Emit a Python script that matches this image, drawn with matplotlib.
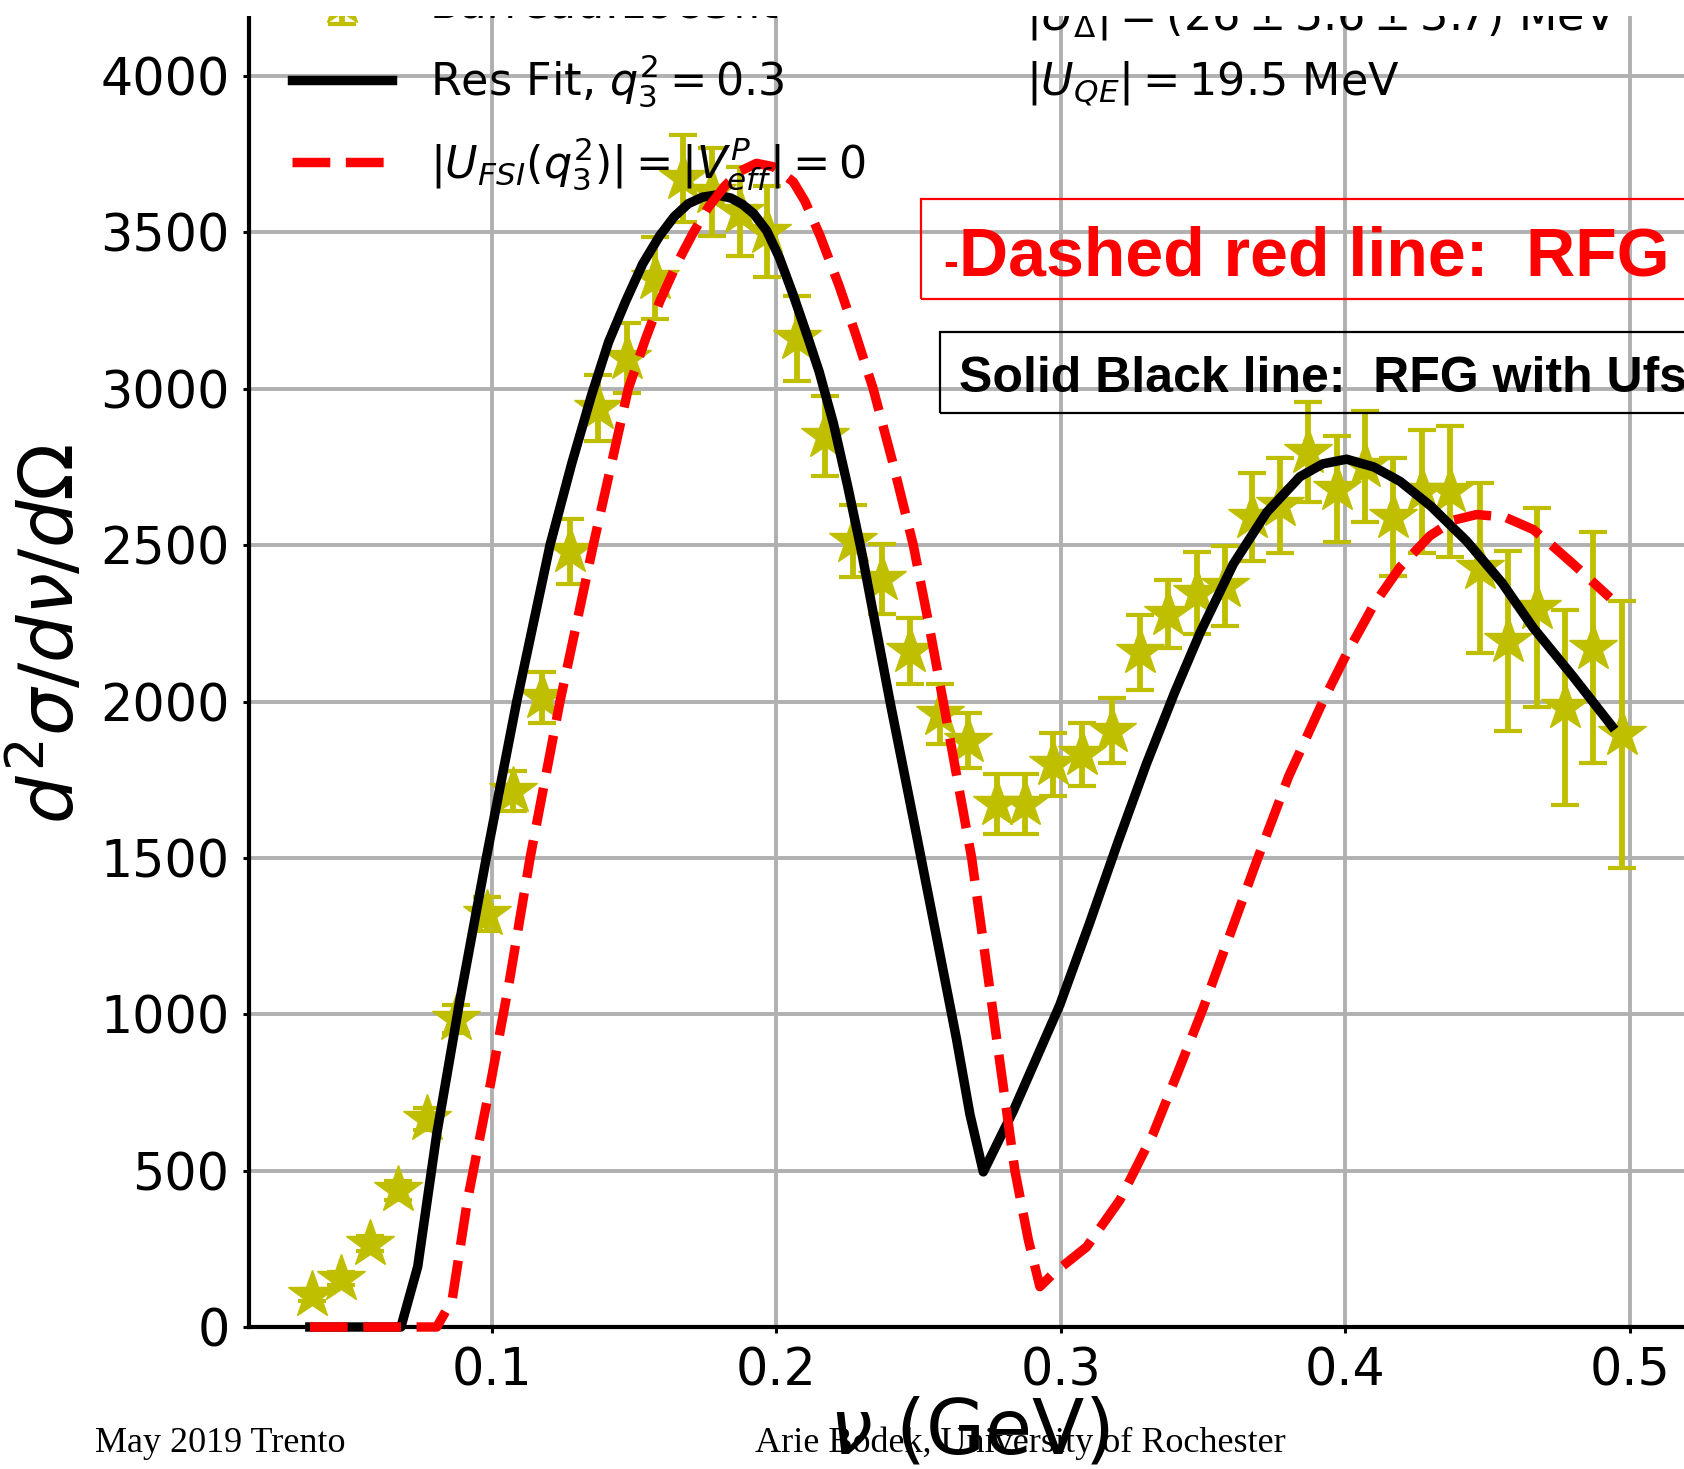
#!/usr/bin/env python3
"""Barreau 1983 data vs resonance fit, with and without FSI potential."""

import matplotlib

matplotlib.use("Agg")
import matplotlib.pyplot as plt
from matplotlib.patches import Rectangle

W, H = 1684, 1469

# Barreau:1983 data points (nu in GeV, cross section, error)
data_nu = [0.0369, 0.0469, 0.0570, 0.0671, 0.0772, 0.0873, 0.0981, 0.1075, 0.1175, 0.1274,
           0.1374, 0.1473, 0.1573, 0.1672, 0.1772, 0.1872, 0.1966, 0.2071, 0.2170, 0.2270,
           0.2372, 0.2469, 0.2575, 0.2674, 0.2774, 0.2873, 0.2973, 0.3073, 0.3178, 0.3278,
           0.3377, 0.3477, 0.3576, 0.3670, 0.3770, 0.3869, 0.3969, 0.4069, 0.4168, 0.4268,
           0.4367, 0.4473, 0.4572, 0.4672, 0.4772, 0.4871, 0.4971]
data_xs = [102, 155, 267, 437, 666, 986, 1321, 1715, 2013, 2481,
           2939, 3098, 3354, 3673, 3630, 3567, 3503, 3162, 2848, 2513,
           2391, 2162, 1960, 1874, 1672, 1672, 1800, 1832, 1906, 2157,
           2280, 2347, 2370, 2590, 2627, 2797, 2679, 2752, 2590, 2672,
           2672, 2427, 2193, 2300, 1981, 2172, 1895]
data_err = [20, 20, 25, 30, 35, 45, 55, 64, 80, 104,
            106, 112, 130, 138, 140, 142, 144, 136, 128, 115,
            112, 106, 96, 88, 96, 96, 101, 101, 104, 121,
            110, 132, 128, 140, 152, 160, 170, 178, 189, 197,
            210, 271, 287, 319, 311, 370, 428]

# Res Fit, q3^2 = 0.3 (solid black)
fit_nu = [0.036, 0.068, 0.0739, 0.0806, 0.0887, 0.0980, 0.1087, 0.1204, 0.1280, 0.1350,
          0.1410, 0.1470, 0.1530, 0.1590, 0.1640, 0.1690, 0.1740, 0.1790, 0.1840, 0.1880,
          0.1920, 0.1966, 0.2010, 0.2059, 0.2110, 0.2150, 0.2200, 0.2250, 0.2299, 0.2399,
          0.2493, 0.2560, 0.2633, 0.2680, 0.2727, 0.2832, 0.2996, 0.3100, 0.3200, 0.3300,
          0.3400, 0.3489, 0.3606, 0.3723, 0.3840, 0.3920, 0.4004, 0.4100, 0.4192, 0.4300,
          0.4426, 0.4550, 0.4660, 0.4800, 0.4936]
fit_xs = [0, 0, 193, 618, 1044, 1500, 2000, 2500, 2760, 2980,
          3150, 3280, 3400, 3490, 3550, 3592, 3613, 3620, 3610, 3590,
          3560, 3505, 3420, 3300, 3165, 3055, 2890, 2690, 2480, 2000,
          1570, 1260, 920, 680, 496, 690, 1030, 1290, 1550, 1800,
          2030, 2220, 2440, 2605, 2719, 2760, 2775, 2750, 2704, 2625,
          2513, 2380, 2236, 2080, 1922]

# |U_FSI(q3^2)| = |V_eff^P| = 0 (dashed red)
rfg_nu = [0.036, 0.0806, 0.0860, 0.0914, 0.0995, 0.1062, 0.1134, 0.1239, 0.1356, 0.1479,
          0.1540, 0.1590, 0.1650, 0.1708, 0.1760, 0.1820, 0.1870, 0.1930, 0.1990, 0.2059,
          0.2100, 0.2153, 0.2220, 0.2280, 0.2340, 0.2410, 0.2481, 0.2535, 0.2586, 0.2686,
          0.2762, 0.2838, 0.2885, 0.2926, 0.2973, 0.3090, 0.3207, 0.3324, 0.3418, 0.3500,
          0.3600, 0.3688, 0.3800, 0.3922, 0.4004, 0.4100, 0.4192, 0.4297, 0.4380, 0.4461,
          0.4560, 0.4660, 0.4725, 0.4800, 0.4930]
rfg_xs = [0, 0, 86, 406, 779, 1110, 1500, 2000, 2500, 3000,
          3160, 3280, 3400, 3500, 3580, 3650, 3695, 3721, 3710, 3662,
          3600, 3490, 3330, 3170, 3000, 2760, 2500, 2250, 2000, 1500,
          1000, 500, 280, 129, 171, 256, 406, 618, 831, 1020,
          1270, 1490, 1760, 2003, 2152, 2310, 2430, 2530, 2580, 2598,
          2590, 2550, 2500, 2440, 2332]

x_ticks = [0.1, 0.2, 0.3, 0.4, 0.5]
y_ticks = [0, 500, 1000, 1500, 2000, 2500, 3000, 3500, 4000]


def fx(px):
    return px / W


def fy(py):
    return 1 - py / H


plt.rcParams.update({
    "font.family": "DejaVu Sans",
    "mathtext.fontset": "dejavusans",
})

fig = plt.figure(figsize=(W / 100, H / 100), dpi=100)
ax_bottom, ax_top = 1327, -59
ax = fig.add_axes([fx(249), fy(ax_bottom), (1690 - 249) / W, (ax_bottom - ax_top) / H])

eb = ax.errorbar(data_nu, data_xs, yerr=data_err, fmt="*", color="y", ms=36,
                 elinewidth=4.2, capsize=10, capthick=3, zorder=2)
black_line, = ax.plot(fit_nu, fit_xs, color="black", lw=6.8, zorder=3, clip_on=False,
                      solid_joinstyle="round")
red_line, = ax.plot(rfg_nu, rfg_xs, color="red", lw=6.8, ls=(0, (4.0, 1.65)),
                    zorder=4, clip_on=False)

ax.set_xlim(0.0146, 0.5211)
ax.set_ylim(0, 4432)
ax.set_xticks(x_ticks)
ax.set_xticklabels([str(t) for t in x_ticks])
ax.set_yticks(y_ticks)
ax.grid(True, color="#b0b0b0", lw=2.8)
ax.set_axisbelow(True)
for side in ("top", "right"):
    ax.spines[side].set_visible(False)
for side in ("left", "bottom"):
    ax.spines[side].set_linewidth(3)
ax.tick_params(axis="both", labelsize=36.5, length=4.5, width=2.2, pad=9.5)

ax.set_xlabel(r"$\nu$ (GeV)", fontsize=55)
ax.xaxis.set_label_coords(0.5, (ax_bottom - 1396) / (ax_bottom - ax_top))
ax.set_ylabel(r"$d^2\sigma/d\nu/d\Omega$", fontsize=54)
ax.yaxis.set_label_coords((90 - 249) / (1690 - 249), 0.5)

ax.legend(
    [eb, black_line, red_line],
    ["Barreau:1983fit", r"Res Fit, $q_3^2 = 0.3$", r"$|U_{FSI}(q_3^2)| = |V_{eff}^P| = 0$"],
    loc="upper left",
    bbox_to_anchor=(fx(274), fy(-34)),
    bbox_transform=fig.transFigure,
    frameon=False,
    fontsize=32,
    handlelength=2.25,
    handletextpad=0.86,
    labelspacing=0.585,
    borderpad=0.4,
    borderaxespad=0,
)

# potentials quoted in the upper right
fig.text(fx(1026), fy(29), r"$|U_{\Delta}| = (26 \pm 5.6 \pm 3.7)$ MeV", fontsize=32,
         va="baseline")
fig.text(fx(1026), fy(95), r"$|U_{QE}| = 19.5$ MeV", fontsize=32, va="baseline")

# slide annotations
fig.patches.append(Rectangle((fx(921), fy(299)), fx(900), 100 / H, transform=fig.transFigure,
                             fill=False, edgecolor="red", lw=1.6, zorder=5))
fig.text(fx(943), fy(276), "-", color="red", fontsize=32, fontweight="bold",
         family="Liberation Sans", va="baseline")
fig.text(fx(959), fy(276), "Dashed red line:  RFG", color="red", fontsize=49,
         fontweight="bold", family="Liberation Sans", va="baseline")
fig.patches.append(Rectangle((fx(940), fy(413)), fx(900), 81 / H, transform=fig.transFigure,
                             fill=False, edgecolor="black", lw=1.6, zorder=5))
fig.text(fx(959), fy(392), "Solid Black line:  RFG with Ufsi", color="black", fontsize=36,
         fontweight="bold", family="Liberation Sans", va="baseline")

fig.text(fx(95), fy(1452), "May 2019 Trento", fontsize=26, family="Liberation Serif",
         va="baseline")
fig.text(fx(755), fy(1452), "Arie Bodek, University of Rochester", fontsize=26,
         family="Liberation Serif", va="baseline")

# the slide crops the top of the plot
fig.patches.append(Rectangle((0, fy(16)), 1, 16 / H + 0.01, transform=fig.transFigure,
                             facecolor="white", edgecolor="none", zorder=100))

fig.savefig("out.png", dpi=100)
